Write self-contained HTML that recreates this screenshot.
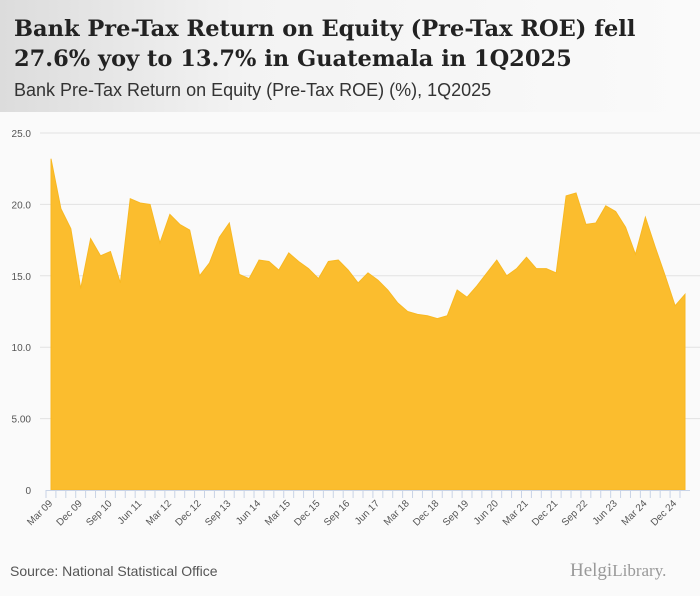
<!DOCTYPE html>
<html><head><meta charset="utf-8"><style>
body{margin:0;width:700px;height:596px;background:#fafafa;font-family:"Liberation Sans",sans-serif;overflow:hidden;position:relative}
#hdr{position:absolute;left:0;top:0;width:700px;height:112px;background:linear-gradient(90deg,#dcdcdc 0%,#f3f3f3 35%,#fafafa 100%)}
#title{position:absolute;left:14px;top:14px;font-family:"DejaVu Serif",serif;font-weight:bold;font-size:22.5px;line-height:30px;color:#222;white-space:nowrap}
#sub{position:absolute;left:14px;top:80px;font-size:18px;color:#333}
#src{position:absolute;left:10px;top:563px;font-size:14px;color:#555}
#logo{position:absolute;left:570px;top:560px;font-family:"Liberation Serif",serif;font-size:19px;color:#999}
svg{position:absolute;left:0;top:0}
</style></head><body>
<div id="hdr"></div>
<div id="title">Bank Pre-Tax Return on Equity (Pre-Tax ROE) fell<br>27.6% yoy to 13.7% in Guatemala in 1Q2025</div>
<div id="sub">Bank Pre-Tax Return on Equity (Pre-Tax ROE) (%), 1Q2025</div>
<svg id="chart" width="700" height="596"></svg>
<div id="src">Source: National Statistical Office</div>
<div id="logo">Helgi<span style="font-size:17px">Library.</span></div>
<script>
const values=[23.2,19.7,18.3,14.1,17.6,16.4,16.7,14.5,20.4,20.1,20.0,17.3,19.3,18.6,18.2,15.0,15.9,17.7,18.7,15.1,14.8,16.1,16.0,15.4,16.6,16.0,15.5,14.8,16.0,16.1,15.4,14.5,15.2,14.7,14.0,13.1,12.5,12.3,12.2,12.0,12.2,14.0,13.5,14.3,15.2,16.1,15.0,15.5,16.3,15.5,15.5,15.2,20.6,20.8,18.6,18.7,19.9,19.5,18.4,16.5,19.1,17.0,15.0,12.9,13.7];
const yTicks=[0,5,10,15,20,25];
const yTickLabels=["0","5.00","10.0","15.0","20.0","25.0"];
const startYear=2009;
const qNames=["Mar","Jun","Sep","Dec"];
const NS="http://www.w3.org/2000/svg";
const svg=document.getElementById('chart');
const x0=51,x1=685,yb=490,yt=133;
const X=i=>x0+i*(x1-x0)/(values.length-1);
const Y=v=>yb-v*(yb-yt)/25;
function mk(t,a){const e=document.createElementNS(NS,t);for(const k in a)e.setAttribute(k,a[k]);svg.appendChild(e);return e;}
yTicks.forEach((t,i)=>{
 if(t>0){const g=mk('line',{x1:40,x2:700,y1:Y(t),y2:Y(t),stroke:'#e2e2e2','stroke-width':1});
 
 }
 const l=mk('text',{x:31,y:Y(t)+4,'text-anchor':'end','font-size':10,fill:'#555','font-family':'Liberation Sans,sans-serif'});
 l.textContent=yTickLabels[i];
 
 
});
let d='M'+X(0)+','+yb;
values.forEach((v,i)=>{d+=' L'+X(i)+','+Y(v);});
d+=' L'+X(values.length-1)+','+yb+' Z';
const area=mk('path',{d:d,fill:'#fbbd2e',stroke:'#f8b822','stroke-width':1});


const ax=mk('line',{x1:46,x2:690,y1:yb+0.5,y2:yb+0.5,stroke:'#c8d3e6'});


values.forEach((v,i)=>{
 const t=mk('line',{x1:X(i)-5,x2:X(i)-5,y1:yb,y2:yb+8,stroke:'#c8d3e6'});
 
 
 if(i%3===0){
  const yr=startYear+Math.floor(i/4);
  const lab=qNames[i%4]+' '+String(yr%100).padStart(2,'0');
  const tx=X(i)+2,ty=yb+14;
  const l=mk('text',{x:tx,y:ty,'text-anchor':'end','font-size':10,fill:'#555','font-family':'Liberation Sans,sans-serif',transform:`rotate(-45 ${tx} ${ty})`});
  l.textContent=lab;
  
  
 }
});
</script>
</body></html>
